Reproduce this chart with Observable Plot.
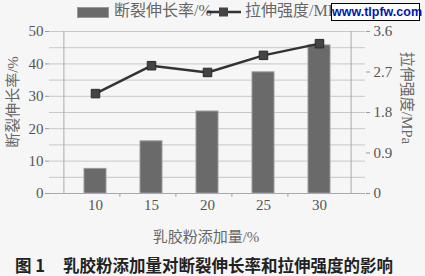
<!DOCTYPE html>
<html><head><meta charset="utf-8">
<script src="https://cdn.jsdelivr.net/npm/d3@7"></script>
<script src="https://cdn.jsdelivr.net/npm/@observablehq/plot@0.6"></script>
<style>
body{margin:0;background:#f6f6f6;}
#wrap{position:relative;width:425px;height:276px;overflow:hidden;background:#f6f6f6;font-family:"Liberation Serif","Noto Sans CJK SC",serif;}
.abs{position:absolute;white-space:nowrap;}
</style></head><body>
<div id="wrap"></div>
<script>
const additions = [10, 15, 20, 25, 30];
const elongation = [7.6, 16.1, 25.3, 37.4, 45.7];      // 断裂伸长率 /%
const strength = [2.22, 2.84, 2.69, 3.07, 3.33];        // 拉伸强度 /MPa
const leftTicks = [0, 10, 20, 30, 40, 50];
const rightTickLabels = [0, 0.9, 1.8, 2.7, 3.6];
const gridVals = d3.range(0, 51, 5);
const ratio = 3.6 / 50;

const barData = additions.map((a, i) => ({a, v: elongation[i]}));
const lineData = additions.map((a, i) => ({a, v: strength[i] / ratio}));
const rightTicks = rightTickLabels.map(t => t / ratio);
const bw = (365 - 49) / additions.length;

const font = '"Liberation Serif","Noto Sans CJK SC",serif';
const plot = Plot.plot({
  width: 425, height: 276,
  marginTop: 31, marginBottom: 83, marginLeft: 49, marginRight: 60,
  style: {background: "transparent", fontFamily: font, fontSize: "15px", color: "#555"},
  x: {type: "band", domain: additions, padding: 0.6, label: null},
  y: {domain: [0, 50], label: null},
  marks: [
    Plot.ruleY(gridVals, {stroke: "#c8c8c8", strokeWidth: 1}),
    Plot.barY(barData, {x: "a", y: "v", fill: "#6a6a6a", stroke: "#9a9a9a", strokeWidth: 1}),
    Plot.line(lineData, {x: "a", y: "v", stroke: "#333", strokeWidth: 2.5}),
    Plot.dot(lineData, {x: "a", y: "v", symbol: "square", r: 4.8, fill: "#444", stroke: "#2a2a2a", strokeWidth: 1}),
    Plot.axisY(leftTicks, {anchor: "left", tickSize: 4, tickPadding: 2, stroke: "#999", fill: "#555", fontSize: 15, label: null}),
    Plot.axisY(rightTicks, {anchor: "right", tickSize: 4, tickPadding: 4, stroke: "#999", fill: "#555", fontSize: 15, tickFormat: d => String(+(d * ratio).toFixed(1)), label: null}),
    Plot.axisX({anchor: "bottom", tickSize: 0, tickPadding: 6, fill: "#555", fontSize: 15, label: null}),
    Plot.ruleX([15, 20, 25, 30], {x: d => d, y1: 0, y2: -1.1, stroke: "#999", dx: -bw / 2}),
    Plot.ruleY([0], {stroke: "#aaa"}),
    Plot.ruleX([10], {x: d => d, y1: 0, y2: 50, stroke: "#aaa", dx: -bw / 2}),
    Plot.ruleX([30], {x: d => d, y1: 0, y2: 50, stroke: "#aaa", dx: bw / 2})
  ]
});
const wrap = document.getElementById("wrap");
plot.style.position = "absolute"; plot.style.left = "0"; plot.style.top = "0";
wrap.appendChild(plot);

function add(html, css){ const d = document.createElement("div"); d.className = "abs"; d.innerHTML = html; Object.assign(d.style, css); wrap.appendChild(d); return d; }
// legend
add('<span style="display:inline-block;width:30px;height:9px;background:#6a6a6a;border:1px solid #999;vertical-align:middle;margin-right:5px"></span>断裂伸长率/%', {left:"77px", top:"1px", fontSize:"16px", color:"#666", lineHeight:"20px"});
add('<svg width="34" height="14" style="vertical-align:middle;margin-right:4px"><line x1="0" y1="7" x2="34" y2="7" stroke="#333" stroke-width="2.5"/><rect x="12" y="2.5" width="9" height="9" fill="#444"/></svg>拉伸强度/MPa', {left:"207px", top:"1px", fontSize:"16px", color:"#666", lineHeight:"20px"});
// watermark
add('www.tlpfw.com', {left:"331px", top:"3px", width:"87px", height:"16px", background:"#fff", border:"1.5px solid #000", color:"#0018b0", fontFamily:"'Liberation Sans',Arial,sans-serif", fontWeight:"bold", fontSize:"12.5px", lineHeight:"16px", textAlign:"center"});
// axis titles
add('乳胶粉添加量/%', {left:"206px", top:"225px", transform:"translateX(-50%)", fontSize:"15px", color:"#666"});
add('断裂伸长率/%', {left:"11px", top:"102px", transform:"translate(-50%,-50%) rotate(-90deg)", fontSize:"15px", color:"#666"});
add('拉伸强度/MPa', {left:"408px", top:"98px", transform:"translate(-50%,-50%) rotate(90deg)", fontSize:"15px", color:"#666"});
// caption
add('<span style="margin-right:18px">图 1</span>乳胶粉添加量对断裂伸长率和拉伸强度的影响', {left:"15px", top:"254px", fontSize:"16.5px", fontWeight:"bold", color:"#222", fontFamily:'"Noto Sans CJK SC",sans-serif', lineHeight:"22px"});
</script>
</body></html>
